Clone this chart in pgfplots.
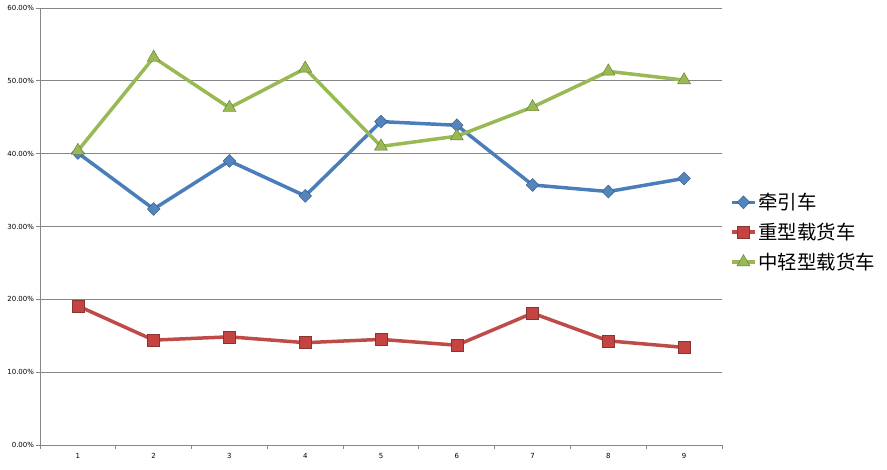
\documentclass[border=0pt]{standalone}
\usepackage{fontspec}
\setmainfont{DejaVu Sans}
\newfontfamily\cjk{Noto Sans CJK SC}
\usepackage{pgfplots}
\pgfplotsset{compat=1.18}
\definecolor{cblue}{HTML}{4A7EBB}
\definecolor{cred}{HTML}{BE4B48}
\definecolor{cgreen}{HTML}{98B954}
\definecolor{gridgray}{HTML}{868686}
\begin{document}
\begin{tikzpicture}
\useasboundingbox (0,0) rectangle (887bp,470bp);
\begin{axis}[
  at={(40bp,25bp)}, anchor=south west,
  scale only axis, width=682bp, height=437bp,
  xmin=0.5, xmax=9.5, ymin=0, ymax=60,
  axis x line*=bottom, axis y line*=left,
  axis line style={draw=gridgray, line width=0.8bp, -},
  xtick={1,...,9},
  minor xtick={0.5,1.5,...,9.5},
  major x tick style={draw=none},
  minor x tick style={draw=gridgray, line width=0.8bp},
  ytick={0,10,...,60},
  y tick style={draw=gridgray, line width=0.8bp},
  tick align=outside,
  major tick length=4bp, minor tick length=4bp,
  ymajorgrids, grid style={draw=gridgray, line width=0.8bp},
  /pgf/number format/assume math mode=true,
  ticklabel style={font=\fontsize{7}{8}\selectfont},
  yticklabel={\pgfmathprintnumber[fixed,fixed zerofill,precision=2]{\tick}\%},
  yticklabel style={xshift=1.5bp},
  xticklabel style={yshift=-1bp},
  legend cell align=left,
  legend style={at={(1.012,0.487)}, anchor=west, draw=none, fill=none,
    font=\cjk\fontsize{19.5}{22}\selectfont, row sep=8bp, inner sep=0pt},
  legend image code/.code={\draw[mark repeat=2,mark phase=2,#1] plot coordinates {(0cm,0cm) (0.4cm,0cm) (0.8cm,0cm)};},
  clip=false,
]
\addplot[cblue, line width=3.5bp, mark=diamond*, mark size=6.5bp,
  mark options={xscale=1.3, fill=cblue!95!white, draw=cblue!70!black, line width=0.4bp}]
  coordinates {(1,40.1) (2,32.4) (3,39.0) (4,34.2) (5,44.4) (6,43.9) (7,35.7) (8,34.8) (9,36.6)};
\addlegendentry{牵引车}
\addplot[cred, line width=3.5bp, mark=square*, mark size=6bp,
  mark options={fill=cred!90!red, draw=cred!70!black, line width=0.4bp}]
  coordinates {(1,19.1) (2,14.4) (3,14.85) (4,14.05) (5,14.5) (6,13.7) (7,18.1) (8,14.3) (9,13.4)};
\addlegendentry{重型载货车}
\addplot[cgreen, line width=3.5bp, mark=triangle*, mark size=7.5bp,
  mark options={fill=cgreen, draw=cgreen!65!black, line width=0.4bp}]
  coordinates {(1,40.4) (2,53.2) (3,46.3) (4,51.7) (5,41.0) (6,42.4) (7,46.4) (8,51.3) (9,50.1)};
\addlegendentry{中轻型载货车}
\end{axis}
\end{tikzpicture}
\end{document}
